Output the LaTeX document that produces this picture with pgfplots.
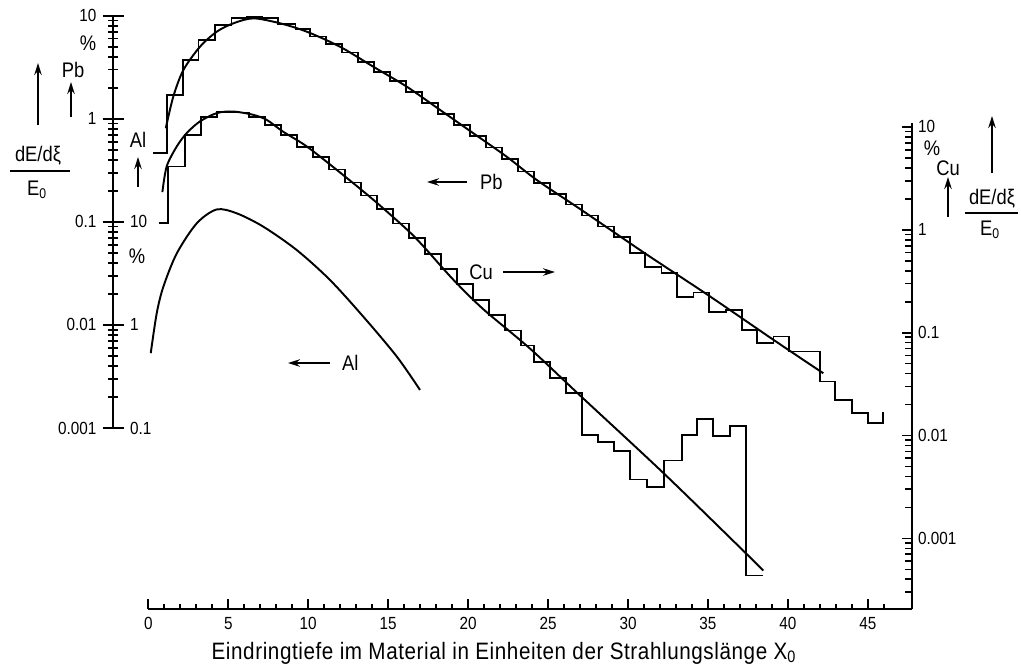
\documentclass[border=0pt]{standalone}
\usepackage{fontspec}
\setmainfont{Liberation Sans}[FakeStretch=0.87]
\usepackage{pgfplots}
\pgfplotsset{compat=1.18}
\usetikzlibrary{arrows.meta}

\pgfplotsset{
  every axis/.append style={
    scale only axis, clip=false, ymode=log, anchor=south west,
    axis line style={line width=1pt,-},
    every tick/.style={black, line width=1pt},
    tick label style={font=\fontsize{10}{12}\selectfont},
    /pgf/number format/assume math mode=true,
  },
}
\tikzset{
  kurvestil/.style={black, line width=1.1pt, smooth, tension=0.5},
  histostil/.style={black, line width=1.0pt, const plot},
}

\begin{document}
\begin{tikzpicture}[font=\fontsize{12}{14}\selectfont,
  pfeil/.style={-{Stealth[length=2.4mm,width=1.5mm]}, line width=0.8pt}]
\useasboundingbox (0,0) rectangle (204.2mm,133.8mm);

% ---------------- Pb (linke Skala) ----------------
\begin{axis}[
  at={(22.6mm,48.2mm)}, width=159.8mm, height=82.46mm,
  xmin=-2.21, xmax=47.76, ymin=0.001, ymax=10,
  axis x line=none, axis y line*=left,
  ytick={0.001,0.01,0.1,1,10}, yticklabels={0.001,0.01,0.1,1,10},
  minor ytick={},
  extra y ticks={0.002,0.003,0.004,0.005,0.006,0.007,0.008,0.009,0.02,0.03,0.04,0.05,0.06,0.07,0.08,0.09,0.2,0.3,0.4,0.5,0.6,0.7,0.8,0.9,2,3,4,5,6,7,8,9},
  extra y tick labels={},
  extra y tick style={major tick length=1.9mm},
  tick align=center, major tick length=4.2mm]

  % Histogramm Pb
  \addplot[histostil] coordinates {
    (0.31,0.462) (1.15,1.70) (2.19,3.72) (3.13,5.80) (4.17,8.13)
    (5.2,9.44) (6.15,9.78) (7.1,9.44) (8.1,8.30) (9.2,7.38)
    (10.1,6.27) (11.1,5.32) (12.1,4.39) (13.1,3.54) (14.1,2.86)
    (15.1,2.31) (16.1,1.83) (17.1,1.43) (18.1,1.11) (19.1,0.867)
    (20.1,0.676) (21.1,0.526) (22.1,0.407) (23.1,0.308) (24.1,0.237)
    (25.1,0.186) (26.1,0.147) (27.1,0.115) (28.1,0.0904) (29.1,0.0708)
    (30.1,0.0495) (31.06,0.0367) (32.1,0.0321) (33.08,0.0188) (34.1,0.0206)
    (35.08,0.01346) (36.13,0.01396) (37.11,0.00893) (38.05,0.00665)
    (39.09,0.00771) (40.09,0.00551) (42.0,0.00282) (42.94,0.00187)
    (43.99,0.00139) (44.99,0.00111) (45.93,0.00111) (45.93,0.00144)
  };

  % Kurve Pb
  \addplot[kurvestil] coordinates {
    (1.09,0.809) (1.56,1.64) (2.19,2.97) (3.23,5.0) (4.28,7.0)
    (5.32,8.44) (6.57,9.43) (8.24,8.44) (9.91,7.0) (11.99,5.0)
    (14.07,3.20) (16.16,2.05) (18.24,1.22) (20.33,0.723) (22.41,0.429)
    (24.29,0.255) (27.1,0.130) (31.06,0.0495) (35.0,0.0195)
    (39.09,0.00718) (42.21,0.0034)
  };
\end{axis}

% ---------------- Al (rechts an der linken Achse) ----------------
\begin{axis}[
  at={(22.6mm,48.2mm)}, width=159.8mm, height=82.46mm,
  xmin=-2.21, xmax=47.76, ymin=0.1, ymax=1000,
  axis x line=none, axis y line*=left, axis line style={draw=none},
  ytick={0.1,1,10}, yticklabels={0.1,1,10}, minor ytick={},
  major tick length=0pt, minor tick length=0pt,
  yticklabel style={anchor=west, xshift=2.2mm}]

  \addplot[kurvestil] coordinates {
    (0.15,0.532) (0.525,1.30) (0.94,2.35) (1.78,4.95) (3.03,9.69)
    (4.28,13.2) (5.53,12.1) (7.19,8.98) (9.28,5.33) (11.36,2.73)
    (13.45,1.20) (15.54,0.493) (16.99,0.234)
  };
\end{axis}

% ---------------- Cu (rechte Skala) + x-Achse ----------------
\begin{axis}[
  at={(29.66mm,12mm)}, width=152.74mm, height=97.2mm,
  xmin=0, xmax=47.76, ymin=2.06e-4, ymax=10.9,
  axis x line*=bottom, axis y line*=right,
  xtick={0,5,...,45}, minor xtick={1,2,...,46},
  ytick={0.001,0.01,0.1,1,10}, yticklabels={0.001,0.01,0.1,1,10},
  minor ytick={},
  extra y ticks={0.0003,0.0004,0.0005,0.0006,0.0007,0.0008,0.0009,0.002,0.003,0.004,0.005,0.006,0.007,0.008,0.009,0.02,0.03,0.04,0.05,0.06,0.07,0.08,0.09,0.2,0.3,0.4,0.5,0.6,0.7,0.8,0.9,2,3,4,5,6,7,8,9},
  extra y tick labels={},
  extra y tick style={major tick length=1.4mm},
  tick align=inside, major tick length=2mm, minor tick length=1.1mm,
  xticklabel style={yshift=-0.5mm}]

  % Histogramm Cu
  \addplot[histostil] coordinates {
    (0.66,1.16) (1.25,4.11) (2.3,8.37) (3.3,12.5) (4.3,14.0)
    (5.3,13.8) (6.3,12.5) (7.3,10.5) (8.3,8.37) (9.3,6.41)
    (10.3,5.13) (11.3,3.85) (12.3,2.88) (13.3,2.15) (14.3,1.58)
    (15.3,1.15) (16.3,0.826) (17.3,0.586) (18.3,0.416) (19.3,0.295)
    (20.3,0.209) (21.3,0.149) (22.3,0.105) (23.3,0.0748) (24.1,0.0521)
    (25.1,0.0360) (26.1,0.0258) (27.1,0.01005) (28.1,0.00865) (29.1,0.00703)
    (30.1,0.00374) (31.2,0.00316) (32.25,0.00571) (33.36,0.0102)
    (34.3,0.0145) (35.3,0.00982) (36.4,0.01228) (37.4,0.000437)
    (38.45,0.000437)
  };

  % Kurve Cu
  \addplot[kurvestil] coordinates {
    (0.88,2.32) (1.15,4.13) (1.78,6.45) (2.40,8.69) (3.23,11.3)
    (4.28,13.6) (5.30,14.1) (6.55,13.1) (7.40,11.7) (8.42,9.0)
    (9.91,6.45) (11.99,3.60) (14.05,1.97) (16.16,1.01) (17.18,0.697)
    (19.05,0.33) (20.93,0.17) (23.87,0.0700) (27.0,0.0245)
    (32.2,0.00434) (37.42,0.000705) (38.46,0.000488)
  };
\end{axis}

\begin{scope}[x=0.2mm, y=0.2mm]
% ---------------- Beschriftung links ----------------
\draw[pfeil] (38,669-125) -- (38,669-63);
\node at (73,669-70) {Pb};
\draw[pfeil] (71,669-117) -- (71,669-82);
\node at (38,669-156) {dE/dξ};
\draw[line width=0.8pt] (10,669-171) -- (70,669-171);
\node at (37,669-190) {E\textsubscript{0}};
\node at (88,669-43) {\%};
\node at (138,669-140) {Al};
\draw[pfeil] (138,669-187) -- (138,669-157);
\node at (137,669-256) {\%};

% ---------------- Beschriftung rechts ----------------
\node at (932,669-148) {\%};
\node at (948,669-168) {Cu};
\draw[pfeil] (948,669-217) -- (948,669-177);
\draw[pfeil] (992,669-173) -- (992,669-116);
\node at (992,669-199) {dE/dξ};
\draw[line width=0.8pt] (965,669-213) -- (1018,669-213);
\node at (990,669-230) {E\textsubscript{0}};

% ---------------- Kennzeichnung der Kurven ----------------
\draw[pfeil] (467,669-182) -- (427,669-182);
\node[anchor=west] at (474,669-182) {Pb};
\node[anchor=east] at (499,669-272) {Cu};
\draw[pfeil] (503,669-272) -- (555,669-272);
\draw[pfeil] (330,669-363) -- (288,669-363);
\node[anchor=west] at (336,669-363) {Al};

% x-Achsenbeschriftung
\node[font=\fontsize{13.5}{16}\selectfont\addfontfeatures{LetterSpace=2.5}]
  at (504,669-653)
  {Eindringtiefe im Material in Einheiten der Strahlungslänge X\textsubscript{0}};
\end{scope}
\end{tikzpicture}
\end{document}
